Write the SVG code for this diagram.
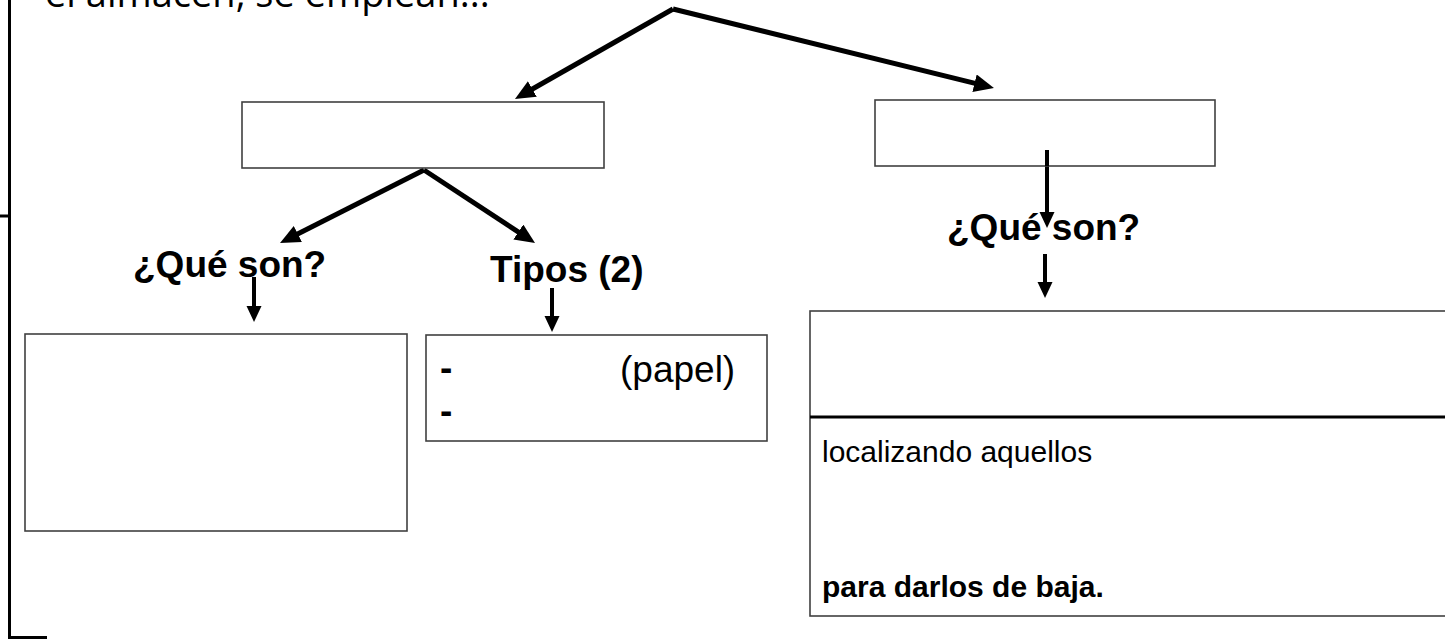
<svg xmlns="http://www.w3.org/2000/svg" width="1445" height="641" viewBox="0 0 1445 641">
<style>
.box{fill:#fff;stroke:#404040;stroke-width:1.6}
.edge{fill:none;stroke:#000;stroke-width:5;stroke-linecap:butt}
.down{fill:none;stroke:#000;stroke-width:4;stroke-linecap:butt}
.frame{fill:none;stroke:#000;stroke-width:3}
.lbl{font-family:"Liberation Sans",Arial,sans-serif;font-weight:bold;font-size:37px;fill:#000}
.txt{font-family:"Liberation Sans",Arial,sans-serif;font-size:30px;fill:#000}
.top{font-family:"Open Sans","Liberation Sans",sans-serif;font-size:38px;fill:#000}
</style>
<defs>
<marker id="ah" markerUnits="userSpaceOnUse" markerWidth="22" markerHeight="20" refX="8" refY="9" orient="auto">
<path d="M0,0 L20,9 L0,18 z" fill="#000"/>
</marker>
<marker id="ahs" markerUnits="userSpaceOnUse" markerWidth="18" markerHeight="16" refX="6" refY="7.5" orient="auto">
<path d="M0,0 L16,7.5 L0,15 z" fill="#000"/>
</marker>
</defs>
<rect width="1445" height="641" fill="#fff"/>
<g id="frame">
<path class="frame" d="M9.5,0 V637.5 H47"/>
<path class="frame" d="M0,216 H8"/>
<text class="top" x="45" y="7">el almacén, se emplean...</text>
</g>
<g id="connectors">
<path class="edge" d="M673,9 L525.4,93" marker-end="url(#ah)"/>
<path class="edge" d="M673,9 L982.3,85.1" marker-end="url(#ah)"/>
<path class="edge" d="M424,170 L290.7,237.6" marker-end="url(#ah)"/>
<path class="edge" d="M424,170 L525,236.4" marker-end="url(#ah)"/>
<path class="down" d="M254,277 V312" marker-end="url(#ahs)"/>
<path class="down" d="M552,288 V322" marker-end="url(#ahs)"/>
<path class="down" d="M1047,150 V218" marker-end="url(#ahs)"/>
<path class="down" d="M1045,254 V288" marker-end="url(#ahs)"/>
</g>
<g id="node-a"><rect class="box" x="242" y="102" width="362" height="66"/></g>
<g id="node-b"><rect class="box" x="875" y="100" width="340" height="66"/></g>
<g id="label-que-left"><text class="lbl" x="133" y="277">¿Qué son?</text></g>
<g id="label-tipos"><text class="lbl" x="490" y="282">Tipos (2)</text></g>
<g id="label-que-right"><text class="lbl" x="947" y="240">¿Qué son?</text></g>
<g id="node-c"><rect class="box" x="25" y="334" width="382" height="197"/></g>
<g id="node-d">
<rect class="box" x="426" y="335" width="341" height="106"/>
<text class="lbl" x="440" y="380">-</text>
<text class="lbl" x="440" y="423">-</text>
<text class="txt" x="620" y="382" style="font-size:37px">(papel)</text>
</g>
<g id="node-e">
<rect class="box" x="810" y="311" width="640" height="305"/>
<path d="M810,417 H1445" stroke="#000" stroke-width="3"/>
<text class="txt" x="822" y="462">localizando aquellos</text>
<text class="txt" x="822" y="597" font-weight="bold">para darlos de baja.</text>
</g>
<g id="drawn-after-connectors">
<path class="down" d="M1047,150 V166"/>
</g>
</svg>
